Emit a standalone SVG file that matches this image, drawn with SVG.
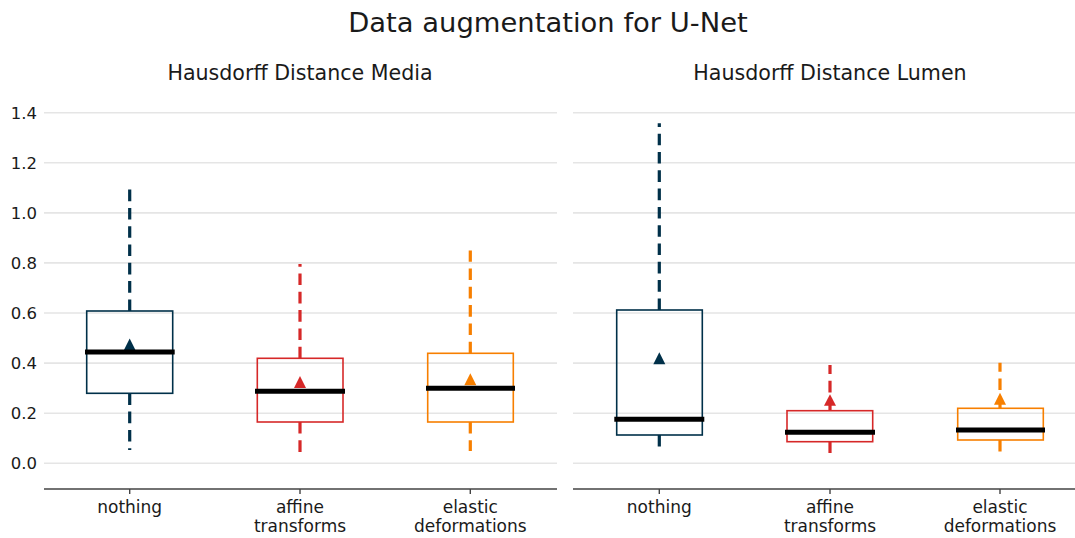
<svg xmlns="http://www.w3.org/2000/svg" width="1075" height="538" viewBox="0 0 1075 538">
<style>
text{font-family:"DejaVu Sans","Liberation Sans",sans-serif;fill:#1a1a1a}
.grid{stroke:#e5e5e5;stroke-width:1.6}
.axis{stroke:#444;stroke-width:1.4;fill:none}
.ytl{font-size:16.5px;text-anchor:end}
.xtl{font-size:17px;text-anchor:middle}
.box{fill:none;stroke-width:1.6}
.wh{stroke-width:3.2;stroke-dasharray:11.6 6.7;fill:none}
.med{stroke:#000;stroke-width:5}
.b{stroke:#003049}.r{stroke:#d62828}.o{stroke:#f77f00}
.bf{fill:#003049}.rf{fill:#d62828}.of{fill:#f77f00}
</style>
<rect width="1075" height="538" fill="#fff"/>
<text x="548" y="32" font-size="27.4" text-anchor="middle">Data augmentation for U-Net</text>
<text x="300" y="80" font-size="20.6" text-anchor="middle">Hausdorff Distance Media</text>
<text x="830" y="80" font-size="20.6" text-anchor="middle">Hausdorff Distance Lumen</text>
<g id="grid">
<g class="grid">
<line x1="44" x2="557" y1="463.3" y2="463.3"/><line x1="44" x2="557" y1="413.2" y2="413.2"/><line x1="44" x2="557" y1="363.1" y2="363.1"/><line x1="44" x2="557" y1="313" y2="313"/><line x1="44" x2="557" y1="262.9" y2="262.9"/><line x1="44" x2="557" y1="212.9" y2="212.9"/><line x1="44" x2="557" y1="162.8" y2="162.8"/><line x1="44" x2="557" y1="112.7" y2="112.7"/>
<line x1="573" x2="1075" y1="463.3" y2="463.3"/><line x1="573" x2="1075" y1="413.2" y2="413.2"/><line x1="573" x2="1075" y1="363.1" y2="363.1"/><line x1="573" x2="1075" y1="313" y2="313"/><line x1="573" x2="1075" y1="262.9" y2="262.9"/><line x1="573" x2="1075" y1="212.9" y2="212.9"/><line x1="573" x2="1075" y1="162.8" y2="162.8"/><line x1="573" x2="1075" y1="112.7" y2="112.7"/>
</g>
<g class="ytl">
<text x="37" y="469.3">0.0</text><text x="37" y="419.2">0.2</text><text x="37" y="369.1">0.4</text><text x="37" y="319">0.6</text><text x="37" y="268.9">0.8</text><text x="37" y="218.9">1.0</text><text x="37" y="168.8">1.2</text><text x="37" y="118.7">1.4</text>
</g>
</g>
<g id="axes">
<path class="axis" d="M44 489H557M129.7 489v5M300 489v5M470.3 489v5M573 489H1075M659.3 489v5M830 489v5M1000 489v5"/>
<g class="xtl">
<text x="129.7" y="513">nothing</text>
<text x="300" y="513">affine</text><text x="300" y="532">transforms</text>
<text x="470.3" y="513">elastic</text><text x="470.3" y="532">deformations</text>
<text x="659.3" y="513">nothing</text>
<text x="830" y="513">affine</text><text x="830" y="532">transforms</text>
<text x="1000" y="513">elastic</text><text x="1000" y="532">deformations</text>
</g>
</g>
<g id="media-nothing">
<path class="wh b" d="M129.7 311V189.3M129.7 393.3V450"/>
<rect class="box b" x="86.7" y="311" width="86" height="82.3"/>
<path class="bf" d="M129.7 338.5l6 12h-12z"/>
<line class="med" x1="85" x2="174.7" y1="352" y2="352"/>
</g>
<g id="media-affine">
<path class="wh r" d="M300 358.3V264M300 422V452.3"/>
<rect class="box r" x="257.3" y="358.3" width="85.7" height="63.7"/>
<path class="rf" d="M300 376l6 12h-12z"/>
<line class="med" x1="255" x2="345" y1="391.3" y2="391.3"/>
</g>
<g id="media-elastic">
<path class="wh o" d="M470.3 353.3V250.5M470.3 422V451"/>
<rect class="box o" x="427.7" y="353.3" width="85.6" height="68.7"/>
<path class="of" d="M470.3 373.3l6 12h-12z"/>
<line class="med" x1="426" x2="515" y1="388.3" y2="388.3"/>
</g>
<g id="lumen-nothing">
<path class="wh b" d="M659.3 310V123.3M659.3 435V447.7"/>
<rect class="box b" x="616.7" y="310" width="85.6" height="125"/>
<path class="bf" d="M659.3 352.3l6 12h-12z"/>
<line class="med" x1="614.3" x2="704.3" y1="419.3" y2="419.3"/>
</g>
<g id="lumen-affine">
<path class="wh r" d="M830 410.7V365M830 441.7V453"/>
<rect class="box r" x="787" y="410.7" width="85.7" height="31"/>
<path class="rf" d="M830 394.3l6 11.5h-12z"/>
<line class="med" x1="785" x2="875" y1="432.3" y2="432.3"/>
</g>
<g id="lumen-elastic">
<path class="wh o" d="M1000 408.3V362.7M1000 440V452"/>
<rect class="box o" x="957.7" y="408.3" width="85.6" height="31.7"/>
<path class="of" d="M1000 392.7l6 12h-12z"/>
<line class="med" x1="956" x2="1045" y1="430" y2="430"/>
</g>
</svg>
